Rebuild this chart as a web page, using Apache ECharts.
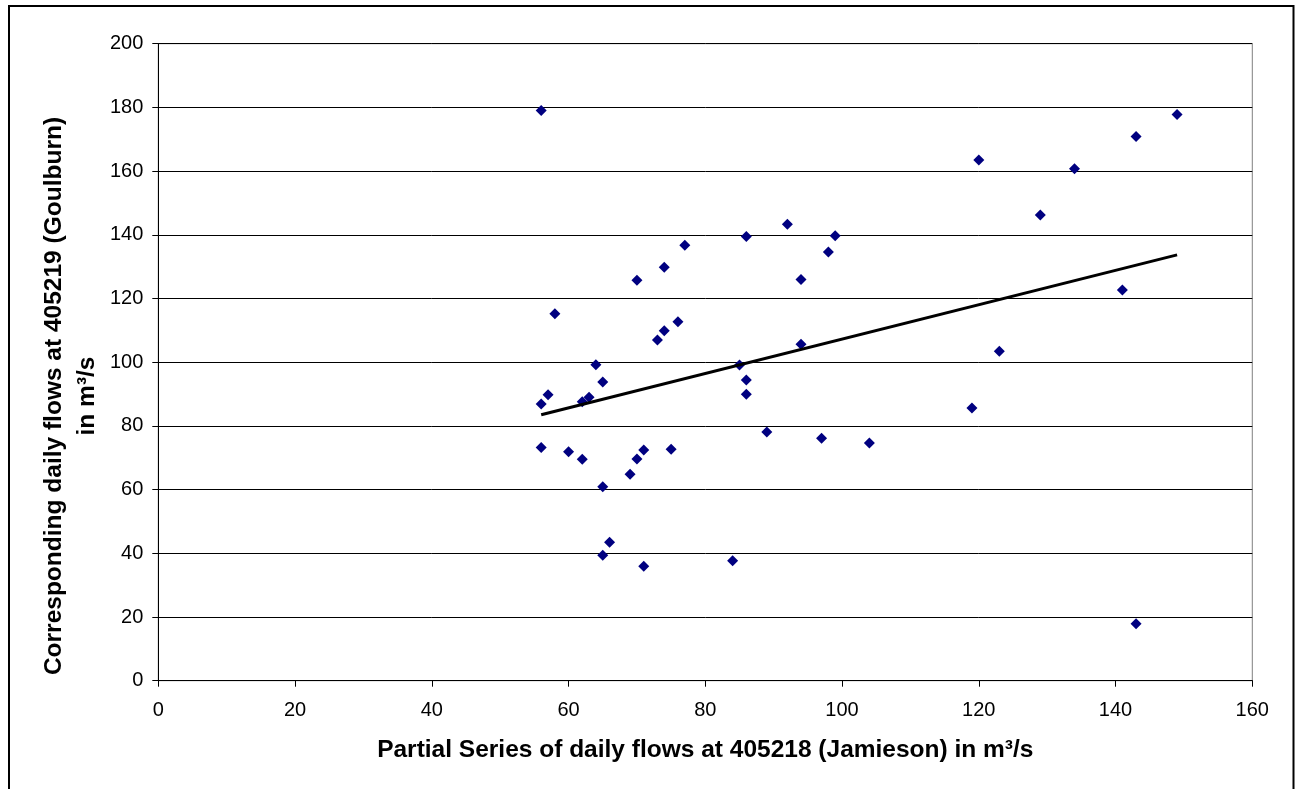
<!DOCTYPE html>
<html>
<head>
<meta charset="utf-8">
<script src="https://cdn.jsdelivr.net/npm/echarts@6/dist/echarts.min.js"></script>
<style>
html, body { margin: 0; padding: 0; background: #fff; }
#chart { width: 1300px; height: 789px; }
</style>
</head>
<body>
<div id="chart"></div>
<script>
// Jamieson (x) and Goulburn (y) flows
var jamieson = [56, 77, 74, 70, 58, 76, 74, 73, 64, 65, 57, 56, 62, 63, 56, 60,
	62, 71, 70, 69, 75, 65, 66, 65, 71, 86, 92, 99, 98, 94, 94, 85, 86, 86, 89,
	97, 104, 84, 120, 134, 129, 143, 149, 141, 123, 119, 143];
var goulburn = [179, 136.7, 129.8, 125.7, 115.2, 112.7, 109.9, 107, 99.2, 93.8,
	89.8, 86.9, 87.6, 89, 73.2, 71.9, 69.5, 72.4, 69.6, 64.8, 72.7, 60.9, 43.5,
	39.4, 35.9, 139.5, 143.3, 139.7, 134.6, 126, 105.6, 99.1, 94.4, 89.9, 78.1,
	76.1, 74.6, 37.7, 163.5, 160.7, 146.2, 170.9, 177.8, 122.7, 103.4, 85.6, 17.9];
// linear trend line ends
var trendX = [56, 149];
var trendY = [83.5, 133.7];

var xTitle = 'Partial Series of daily flows at 405218 (Jamieson) in m³/s';
var yTitle1 = 'Corresponding daily flows at 405219 (Goulburn)';
var yTitle2 = 'in m³/s';

var points = [];
for (var i = 0; i < jamieson.length; i++) {
	points.push([jamieson[i], goulburn[i]]);
}
var trend = [];
for (var j = 0; j < trendX.length; j++) {
	trend.push([trendX[j], trendY[j]]);
}

var myChart = echarts.init(document.getElementById('chart'));
var font = 'Liberation Sans, Arial, sans-serif';

function yTitleText(txt, x) {
	return {
		type: 'text',
		x: x,
		y: 396,
		rotation: Math.PI / 2,
		silent: true,
		style: {
			text: txt,
			fontFamily: font,
			fontSize: 24.5,
			fontWeight: 'bold',
			fill: '#000',
			align: 'center',
			verticalAlign: 'middle'
		}
	};
}

var option = {
	animation: false,
	backgroundColor: '#fff',
	graphic: [{
		type: 'rect',
		shape: { x: 9, y: 6, width: 1284.5, height: 800 },
		style: { fill: 'none', stroke: '#000', lineWidth: 2 },
		silent: true
	}, yTitleText(yTitle1, 54.5), yTitleText(yTitle2, 87)],
	grid: {
		left: 158.3,
		right: 47.7,
		top: 43.7,
		bottom: 108.3,
		show: true,
		borderColor: '#808080',
		borderWidth: 1
	},
	xAxis: {
		type: 'value',
		min: 0,
		max: 160,
		interval: 20,
		name: xTitle,
		nameLocation: 'middle',
		nameGap: 57,
		nameTextStyle: { fontFamily: font, fontSize: 24.5, fontWeight: 'bold', color: '#000' },
		axisLine: { show: true, lineStyle: { color: '#000', width: 1 } },
		axisTick: { show: true, length: 6, lineStyle: { color: '#000' } },
		axisLabel: { margin: 20, fontFamily: font, fontSize: 20, color: '#000' },
		splitLine: { show: false }
	},
	yAxis: {
		type: 'value',
		min: 0,
		max: 200,
		interval: 20,
		axisLine: { show: true, lineStyle: { color: '#000', width: 1 } },
		axisTick: { show: true, length: 6, lineStyle: { color: '#000' } },
		axisLabel: { margin: 15, fontFamily: font, fontSize: 20, color: '#000' },
		splitLine: { show: true, lineStyle: { color: '#000', width: 1 } }
	},
	series: [{
		type: 'scatter',
		data: points,
		symbol: 'diamond',
		symbolSize: [11, 11],
		itemStyle: { color: '#000080', opacity: 1 },
		z: 3
	}, {
		type: 'line',
		data: trend,
		showSymbol: false,
		lineStyle: { color: '#000', width: 3 },
		z: 4
	}]
};
myChart.setOption(option, true);
</script>
</body>
</html>
